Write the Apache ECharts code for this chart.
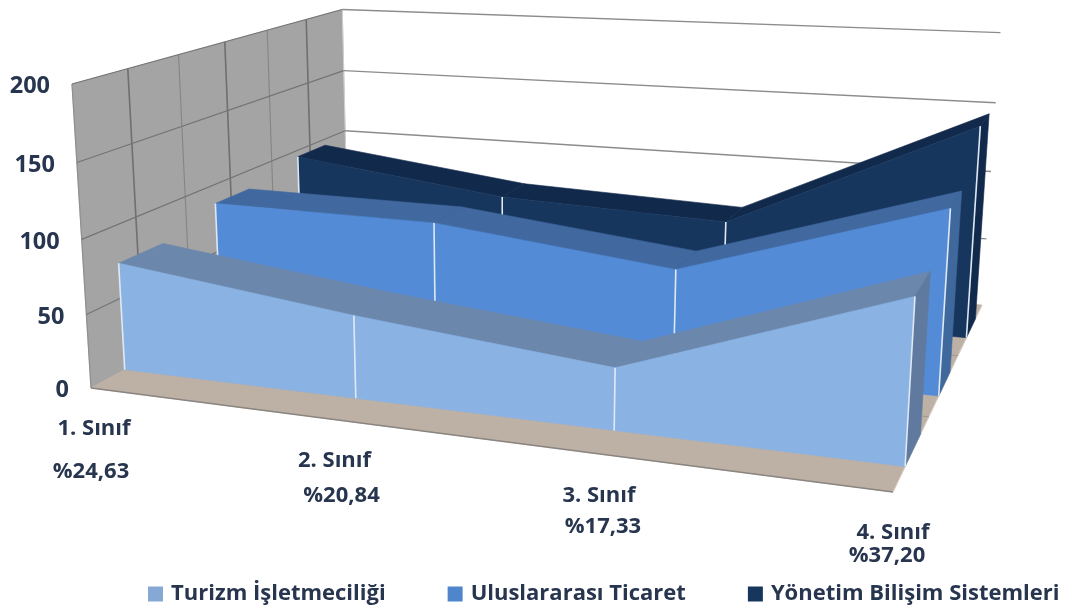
<!DOCTYPE html>
<html><head><meta charset="utf-8">
<style>html,body{margin:0;padding:0;background:#fff}#c{width:1065px;height:612px}</style>
<script src="https://cdn.jsdelivr.net/npm/echarts@6/dist/echarts.min.js"></script>
</head><body><div id="c"></div>
<script>
const categories = ['1. Sınıf','2. Sınıf','3. Sınıf','4. Sınıf'];
const shares = ['%24,63','%20,84','%17,33','%37,20'];
const seriesNames = ['Turizm İşletmeciliği','Uluslararası Ticaret','Yönetim Bilişim Sistemleri'];
const turizm = [74, 55, 39.5, 100];
const uluslararasi = [86, 85, 67, 121];
const yonetim = [95, 75, 69, 148.5];
const valueTicks = [0,50,100,150,200];

const GRID = {left:100, top:100, width:600, height:300};
// frame of the 3D box in screen space
const B=[91,388],E=[893,492],F=[982,305],D=[348,248],A=[72,84],VP=[516,7188];
const den=(E[0]-F[0])*(D[1]-F[1])-(D[0]-F[0])*(E[1]-F[1]);
const sx=B[0]-E[0]+F[0]-D[0], sy=B[1]-E[1]+F[1]-D[1];
const pg=(sx*(D[1]-F[1])-(D[0]-F[0])*sy)/den, ph=((E[0]-F[0])*sy-sx*(E[1]-F[1]))/den;
const cu=[E[0]-B[0]+pg*E[0],E[1]-B[1]+pg*E[1],pg];
const cz=[D[0]-B[0]+ph*D[0],D[1]-B[1]+ph*D[1],ph];
const co=[B[0],B[1],1];
const s=(B[1]-A[1])/(A[1]-VP[1]);
const cv=[s*VP[0],s*VP[1],s];
function proj(u,v,z){
  const X=cu[0]*u+cv[0]*v+cz[0]*z+co[0], Y=cu[1]*u+cv[1]*v+cz[1]*z+co[1], W=cu[2]*u+cv[2]*v+cz[2]*z+1;
  return [X/W,Y/W];
}
function uv(api,cat,val){
  const p=api.coord([cat,val]);
  return [(p[0]-GRID.left)/GRID.width,(GRID.top+GRID.height-p[1])/GRID.height];
}
const poly=(pts,fill,z2)=>({type:'polygon',shape:{points:pts},style:{fill:fill,stroke:fill,lineWidth:0.6},z2:z2||0,silent:true});
const line=(a,b,c,w)=>({type:'line',shape:{x1:a[0],y1:a[1],x2:b[0],y2:b[1]},style:{stroke:c,lineWidth:w},silent:true});

function areaSeries(name,values,z0,z1,colors){
  return {name,type:'custom',coordinateSystem:'cartesian2d',clip:false,silent:true,
    itemStyle:{color:colors.legend},encode:{x:0,y:1},
    data:values.map((v,i)=>[i,v]),
    renderItem(params,api){
      const i=api.value(0), val=api.value(1);
      const [u,v]=uv(api,i,val);
      const kids=[];
      if(i<values.length-1){
        const [u2,v2]=uv(api,i+1,values[i+1]);
        kids.push(poly([proj(u,v,z0),proj(u2,v2,z0),proj(u2,v2,z1),proj(u,v,z1)],colors.top));
        kids.push(poly([proj(u,0,z0),proj(u2,0,z0),proj(u2,v2,z0),proj(u,v,z0)],colors.face));
      } else {
        kids.push(poly([proj(u,0,z0),proj(u,v,z0),proj(u,v,z1),proj(u,0,z1)],colors.side));
      }
      kids.push(line(proj(u,0,z0),proj(u,v,z0),'#dfe9f5',1.6));
      return {type:'group',children:kids};
    }};
}
const frameSeries={type:'custom',coordinateSystem:'cartesian2d',clip:false,silent:true,encode:{x:0,y:1},
  data:valueTicks.map(v=>[0,v]),
  renderItem(params,api){
    const val=api.value(1);
    const [u0,v]=uv(api,0,val);
    const [u1]=uv(api,3,val);
    const [,vTop]=uv(api,0,valueTicks[valueTicks.length-1]);
    const kids=[];
    if(params.dataIndex===0){
      kids.push(poly([proj(u0,0,0),proj(u0,vTop,0),proj(u0,vTop,1),proj(u0,0,1)],'#a4a4a4'));
      kids.push(poly([proj(u0,0,0),proj(u1,0,0),proj(u1,0,1),proj(u0,0,1)],'#bdb0a4'));
      kids.push(line(proj(u0,0,0),proj(u1,0,0),'#8a8580',1.5));
      kids.push(line(proj(u1,0,0),proj(u1,0,1),'#d8cec5',1));
      kids.push(line(proj(u0,0,1),proj(u0,vTop,1),'#d0d0d0',1));
      kids.push(line(proj(u0,0,0),proj(u0,vTop,0),'#8f8f8f',1.2));
      for(let k=1;k<6;k++){
        kids.push(line(proj(u0,0,k/6),proj(u0,vTop,k/6),k%2?'#6f6f6f':'#858585',k%2?1.6:1.1));
        kids.push(line(proj(u0,0,k/6),proj(u1,0,k/6),'#a4978b',1));
      }
    }
    if(val>0){
      kids.push(line(proj(u0,v,0),proj(u0,v,1),'#747474',1.2));
      kids.push(line(proj(u0,v,1),proj(u1,v,1),'#8c8c8c',1.3));
    }
    return {type:'group',children:kids};
  }};
const TXT='#27354f', FONT='"Open Sans", "Noto Sans", sans-serif';
const tickLabelSeries={type:'custom',coordinateSystem:'cartesian2d',clip:false,silent:true,encode:{x:0,y:1},
  data:valueTicks.map(v=>[0,v]),
  renderItem(params,api){
    const [u,v]=uv(api,0,api.value(1));
    const p=proj(u,v,0);
    return {type:'text',x:p[0]-22,y:p[1]+2.5,silent:true,
      style:{text:String(api.value(1)),fill:TXT,font:'bold 23.5px '+FONT,textAlign:'right',textVerticalAlign:'middle'}};
  }};
// label offsets from each category's floor point
const catOff=[[3,41],[7,42],[6,43],[0,41]];
const shareOff=[[0,84],[14,77],[10,74],[-6,64]];
const catLabelSeries={type:'custom',coordinateSystem:'cartesian2d',clip:false,silent:true,encode:{x:0,y:1},
  data:categories.map((c,i)=>[i,0]),
  renderItem(params,api){
    const i=api.value(0);
    const [u]=uv(api,i,0);
    const p=proj(u,0,0);
    const mk=(s,o)=>({type:'text',x:p[0]+o[0],y:p[1]+o[1],silent:true,
      style:{text:s,fill:TXT,font:'bold 22px '+FONT,textAlign:'center',textVerticalAlign:'middle'}});
    return {type:'group',children:[mk(categories[i],catOff[i]),mk(shares[i],shareOff[i])]};
  }};
const chart=echarts.init(document.getElementById('c'),null,{renderer:'canvas'});
chart.setOption({
  animation:false,backgroundColor:'#fff',
  grid:GRID,
  xAxis:{type:'category',data:categories,boundaryGap:false,show:false},
  yAxis:{type:'value',min:0,max:200,interval:50,show:false},
  legend:{data:seriesNames,left:143,top:578,itemWidth:15,itemHeight:15,itemGap:62,icon:'rect',selectedMode:false,
    textStyle:{color:TXT,fontFamily:FONT,fontWeight:'bold',fontSize:22,padding:[0,0,0,3]}},
  series:[
    frameSeries,
    areaSeries(seriesNames[2],yonetim,0.778,0.903,{face:'#17365d',top:'#11294b',side:'#11294b',legend:'#17365d'}),
    areaSeries(seriesNames[1],uluslararasi,0.44,0.571,{face:'#538bd7',top:'#41699f',side:'#3f699d',legend:'#4f86cb'}),
    areaSeries(seriesNames[0],turizm,0.105,0.25,{face:'#8ab2e2',top:'#6c87ac',side:'#5f7a9e',legend:'#85a9d4'}),
    tickLabelSeries,catLabelSeries
  ]
});
</script></body></html>
